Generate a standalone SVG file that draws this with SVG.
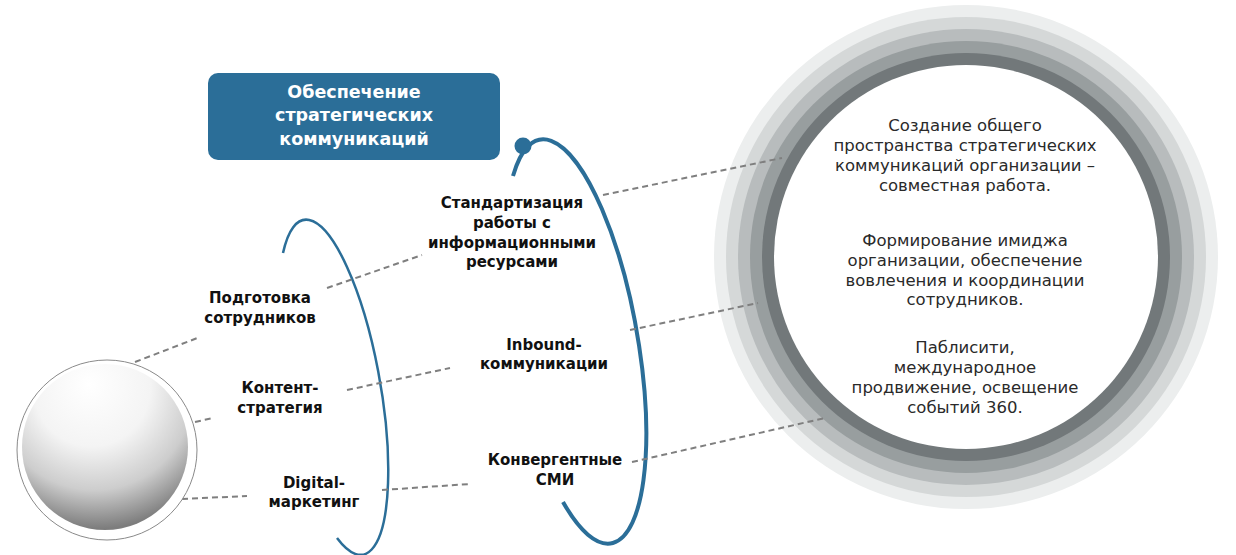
<svg xmlns="http://www.w3.org/2000/svg" width="1236" height="555" viewBox="0 0 1236 555">
<defs>
<radialGradient id="sph" cx="0.45" cy="0.18" r="0.88" fx="0.4" fy="0.12">
<stop offset="0" stop-color="#ffffff"/>
<stop offset="0.4" stop-color="#f4f4f4"/>
<stop offset="0.68" stop-color="#cdcdcd"/>
<stop offset="0.93" stop-color="#7c7c7c"/>
<stop offset="1" stop-color="#9a9a9a"/>
</radialGradient>
<style>
.dash{fill:none;stroke:#7f7f7f;stroke-width:2;stroke-dasharray:6 4}
.arc{fill:none;stroke:#2b6e98}
.lbl{font-family:"DejaVu Sans","Liberation Sans",sans-serif;font-weight:bold;font-size:15px;fill:#111;text-anchor:middle}
.ttl{font-family:"DejaVu Sans","Liberation Sans",sans-serif;font-weight:bold;font-size:17.5px;fill:#fff;text-anchor:middle}
.cir{font-family:"DejaVu Sans","Liberation Sans",sans-serif;font-size:16.5px;fill:#2a2a2a;text-anchor:middle}
</style>
</defs>
<rect width="1236" height="555" fill="#ffffff"/>

<g id="rings">
<circle cx="966" cy="257" r="252" fill="#eceeee"/>
<circle cx="966" cy="257" r="240" fill="#d5d8d8"/>
<circle cx="966" cy="257" r="228" fill="#b8bcbd"/>
<circle cx="966" cy="257" r="216" fill="#989e9f"/>
<circle cx="966" cy="257" r="204" fill="#72787a"/>
<circle cx="966" cy="257" r="192" fill="#ffffff"/>
</g>

<g id="arcs">
<path class="arc" stroke-width="2.5" d="M283,253 A47 170 -10 1 1 337,538"/>
<path class="arc" stroke-width="4" d="M513,176 A62 205 -10 1 1 563,502"/>
<circle cx="523" cy="146" r="8.5" fill="#2b6e98"/>
</g>

<g id="connectors">
<line class="dash" x1="135" y1="362" x2="200" y2="337"/>
<line class="dash" x1="195" y1="422" x2="213" y2="418"/>
<line class="dash" x1="182" y1="499" x2="247" y2="496"/>
<line class="dash" x1="327" y1="288" x2="422" y2="255"/>
<line class="dash" x1="347" y1="390" x2="450" y2="368"/>
<line class="dash" x1="382" y1="490" x2="470" y2="484"/>
<line class="dash" x1="603" y1="195" x2="782" y2="158"/>
<line class="dash" x1="630" y1="330" x2="758" y2="303"/>
<line class="dash" x1="632" y1="462" x2="825" y2="418"/>
</g>

<g id="sphere">
<circle cx="107" cy="450" r="90" fill="#ffffff" stroke="#8a8a8a" stroke-width="1"/>
<circle cx="105" cy="447" r="83" fill="url(#sph)"/>
</g>

<g id="title">
<rect x="208" y="73" width="292" height="87" rx="10" fill="#2b6e98"/>
<text class="ttl" x="354" y="98">Обеспечение</text>
<text class="ttl" x="354" y="121">стратегических</text>
<text class="ttl" x="354" y="145">коммуникаций</text>
</g>

<g id="n-standard">
<text class="lbl" x="512" y="208">Стандартизация</text>
<text class="lbl" x="512" y="228">работы с</text>
<text class="lbl" x="512" y="248">информационными</text>
<text class="lbl" x="512" y="267">ресурсами</text>
</g>
<g id="n-training">
<text class="lbl" x="260" y="303">Подготовка</text>
<text class="lbl" x="260" y="323">сотрудников</text>
</g>
<g id="n-inbound">
<text class="lbl" x="544" y="350">Inbound-</text>
<text class="lbl" x="544" y="369">коммуникации</text>
</g>
<g id="n-content">
<text class="lbl" x="280" y="393">Контент-</text>
<text class="lbl" x="280" y="413">стратегия</text>
</g>
<g id="n-convergent">
<text class="lbl" x="555" y="465">Конвергентные</text>
<text class="lbl" x="555" y="485">СМИ</text>
</g>
<g id="n-digital">
<text class="lbl" x="314" y="488">Digital-</text>
<text class="lbl" x="314" y="507">маркетинг</text>
</g>

<g id="circle-text">
<text class="cir" x="965" y="131">Создание общего</text>
<text class="cir" x="965" y="151">пространства стратегических</text>
<text class="cir" x="965" y="171">коммуникаций организации –</text>
<text class="cir" x="965" y="191">совместная работа.</text>
<text class="cir" x="965" y="246">Формирование имиджа</text>
<text class="cir" x="965" y="266">организации, обеспечение</text>
<text class="cir" x="965" y="286">вовлечения и координации</text>
<text class="cir" x="965" y="305">сотрудников.</text>
<text class="cir" x="965" y="353">Паблисити,</text>
<text class="cir" x="965" y="373">международное</text>
<text class="cir" x="965" y="393">продвижение, освещение</text>
<text class="cir" x="965" y="413">событий 360.</text>
</g>
</svg>
